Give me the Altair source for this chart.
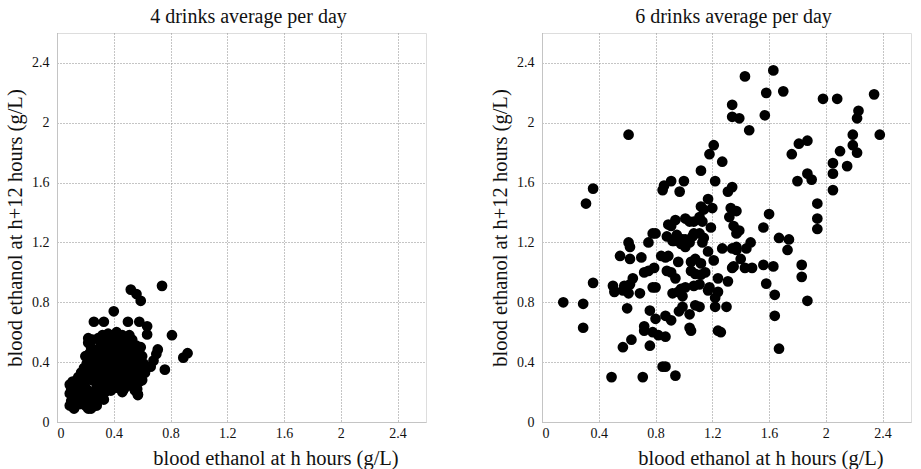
import altair as alt
import pandas as pd

# Blood ethanol (g/L) at h hours and at h+12 hours, 4 drinks/day group
x4 = [0.09, 0.12, 0.10, 0.13, 0.09, 0.10, 0.09, 0.11, 0.13, 0.12, 0.15, 0.17, 0.16, 0.15,
      0.19, 0.21, 0.18, 0.20, 0.20, 0.22, 0.24, 0.26, 0.28, 0.27, 0.24, 0.30, 0.29, 0.23,
      0.21, 0.14, 0.18, 0.15,
      0.19, 0.21, 0.20, 0.23, 0.22, 0.24, 0.25, 0.26, 0.24, 0.27, 0.25, 0.28, 0.30, 0.31,
      0.33, 0.32, 0.29, 0.28, 0.30, 0.31, 0.29, 0.32, 0.34, 0.36, 0.38, 0.35, 0.34, 0.36,
      0.35, 0.37, 0.36, 0.39, 0.40, 0.41, 0.39, 0.40, 0.42, 0.40, 0.42, 0.44, 0.45, 0.44,
      0.46, 0.45, 0.44, 0.43, 0.46, 0.48, 0.49, 0.48, 0.50, 0.48, 0.51, 0.53, 0.52, 0.54,
      0.52, 0.51, 0.53, 0.55, 0.56, 0.57, 0.58, 0.56, 0.59, 0.60, 0.61, 0.59, 0.58, 0.56,
      0.57, 0.55, 0.47, 0.46, 0.42, 0.38, 0.34, 0.33, 0.35, 0.54, 0.57, 0.22,
      0.14, 0.17, 0.22, 0.25, 0.27, 0.31, 0.29, 0.26, 0.23, 0.27, 0.25, 0.33, 0.31, 0.38,
      0.37, 0.41, 0.43, 0.47, 0.49, 0.46, 0.50, 0.53, 0.55, 0.54, 0.50, 0.48, 0.40, 0.38,
      0.33, 0.27, 0.17, 0.21, 0.12, 0.16, 0.19, 0.60, 0.62,
      0.40, 0.26, 0.33, 0.50, 0.58, 0.635, 0.635, 0.52, 0.56, 0.59, 0.74, 0.81, 0.71,
      0.70, 0.68, 0.66, 0.76, 0.89, 0.92, 0.565, 0.55, 0.47]
y4 = [0.11, 0.09, 0.14, 0.12, 0.19, 0.22, 0.25, 0.27, 0.24, 0.20, 0.26, 0.28, 0.22, 0.17,
      0.26, 0.28, 0.20, 0.23, 0.11, 0.09, 0.09, 0.11, 0.11, 0.14, 0.13, 0.15, 0.18, 0.17,
      0.16, 0.28, 0.31, 0.30,
      0.36, 0.39, 0.44, 0.46, 0.53, 0.50, 0.55, 0.42, 0.34, 0.31, 0.28, 0.25, 0.29, 0.24,
      0.27, 0.33, 0.37, 0.44, 0.48, 0.52, 0.56, 0.58, 0.55, 0.59, 0.57, 0.50, 0.45, 0.40,
      0.35, 0.30, 0.25, 0.28, 0.33, 0.38, 0.43, 0.48, 0.52, 0.56, 0.60, 0.57, 0.53, 0.46,
      0.42, 0.37, 0.32, 0.27, 0.29, 0.33, 0.39, 0.45, 0.50, 0.55, 0.58, 0.55, 0.48, 0.43,
      0.38, 0.31, 0.26, 0.30, 0.35, 0.40, 0.46, 0.51, 0.50, 0.44, 0.39, 0.33, 0.27, 0.22,
      0.18, 0.21, 0.22, 0.20, 0.23, 0.21, 0.20, 0.15, 0.24, 0.23, 0.185, 0.56,
      0.23, 0.24, 0.21, 0.19, 0.21, 0.20, 0.23, 0.35, 0.40, 0.48, 0.45, 0.38, 0.42, 0.46,
      0.52, 0.44, 0.36, 0.48, 0.42, 0.58, 0.36, 0.33, 0.40, 0.50, 0.27, 0.24, 0.25, 0.35,
      0.48, 0.39, 0.33, 0.33, 0.17, 0.12, 0.15, 0.28, 0.33,
      0.74, 0.67, 0.67, 0.67, 0.67, 0.64, 0.585, 0.885, 0.855, 0.81, 0.91, 0.58, 0.485,
      0.455, 0.41, 0.37, 0.35, 0.43, 0.46, 0.22, 0.25, 0.22]

# Same measures, 6 drinks/day group
x6 = [0.15, 0.29, 0.29, 0.36, 0.31, 0.36, 0.61,
      0.49, 0.71, 0.85, 0.87, 0.94,
      0.57, 0.63, 0.76, 0.60,
      0.50, 0.51, 0.57, 0.61, 0.58, 0.62, 0.64, 0.69, 0.78, 0.80,
      0.72, 0.75, 0.79,
      0.55, 0.62, 0.70,
      0.61, 0.62, 0.75, 0.78, 0.80,
      0.84, 0.87, 0.89, 0.88, 0.92,
      0.96, 0.88, 0.91, 0.94,
      0.92, 0.96, 1.01, 0.99, 0.98,
      0.76, 0.80, 0.87, 0.91, 0.965, 0.99, 1.04,
      0.72, 0.72, 0.78, 0.82, 0.87,
      1.04, 1.05, 1.08, 1.11,
      1.17, 1.18, 1.22, 1.24, 1.22, 1.30, 1.24, 1.26,
      1.31, 1.24, 1.07, 1.11,
      1.05, 1.08, 1.12, 1.05, 1.08, 1.12, 1.15,
      1.21,
      0.95, 0.99, 1.01, 1.06, 1.11, 1.13, 1.14, 1.17,
      1.27, 1.34,
      1.34, 1.34, 1.39, 1.57, 1.46,
      1.21, 1.18, 1.27, 1.12, 1.22, 1.00, 0.91, 0.86, 0.85, 0.97,
      1.31, 1.34, 1.17, 1.12, 1.14, 1.20, 1.33, 1.32, 1.37,
      1.11, 1.13, 1.01, 1.04, 1.07, 0.94, 0.89, 0.91, 1.19, 1.35,
      0.93, 1.01, 1.07, 1.04, 0.98, 1.34,
      1.43, 1.63, 1.58, 1.70,
      1.98, 2.08, 2.34, 2.23, 2.22, 2.19, 2.38,
      1.81, 1.87, 1.76, 1.87, 1.90, 1.80,
      2.05, 2.05, 2.05, 2.10, 2.19, 2.22, 2.15,
      1.60, 1.94, 1.94, 1.94, 1.56, 1.39, 1.37, 1.67, 1.74, 1.73,
      1.37, 1.37, 1.44, 1.47, 1.40, 1.35, 1.43, 1.48, 1.56, 1.63, 1.83, 1.83,
      1.58, 1.64, 1.87, 1.64, 1.67]
y6 = [0.80, 0.79, 0.63, 0.93, 1.46, 1.56, 1.92,
      0.30, 0.30, 0.37, 0.37, 0.31,
      0.50, 0.55, 0.51, 0.76,
      0.91, 0.87, 0.88, 0.86, 0.91, 0.92, 0.96, 0.86, 0.90, 0.90,
      1.00, 1.01, 1.03,
      1.11, 1.09, 1.10,
      1.20, 1.17, 1.20, 1.26, 1.26,
      1.11, 1.10, 1.11, 1.24, 1.21,
      1.07, 1.01, 1.00, 0.96,
      0.86, 0.87, 0.90, 0.84, 0.89,
      0.745, 0.69, 0.71, 0.68, 0.74, 0.77, 0.72,
      0.64, 0.61, 0.60, 0.58, 0.57,
      0.63, 0.61, 0.78, 0.77,
      0.88, 0.90, 0.83, 0.87, 0.77, 0.77, 0.61, 0.60,
      0.94, 0.96, 0.91, 0.92,
      1.07, 1.09, 1.06, 1.01, 0.99, 0.985, 1.00,
      1.08,
      1.25, 1.22, 1.17, 1.24, 1.26, 1.20, 1.23, 1.14,
      1.16, 1.03,
      2.12, 2.04, 2.03, 2.05, 1.95,
      1.85, 1.79, 1.74, 1.68, 1.61, 1.61, 1.61, 1.58, 1.55, 1.54,
      1.54, 1.57, 1.49, 1.44, 1.42, 1.43, 1.43, 1.37, 1.41,
      1.37, 1.34, 1.36, 1.34, 1.34, 1.35, 1.32, 1.31, 1.30, 1.31,
      1.21, 1.22, 1.26, 1.20, 1.19, 1.16,
      2.31, 2.35, 2.20, 2.21,
      2.16, 2.16, 2.19, 2.08, 2.03, 1.92, 1.92,
      1.86, 1.88, 1.79, 1.66, 1.62, 1.61,
      1.73, 1.66, 1.55, 1.81, 1.85, 1.80, 1.71,
      1.39, 1.46, 1.36, 1.29, 1.30, 1.28, 1.26, 1.23, 1.22, 1.15,
      1.17, 1.15, 1.16, 1.20, 1.09, 1.04, 1.03, 1.03, 1.05, 1.04, 1.05, 0.97,
      0.925, 0.85, 0.81, 0.71, 0.49]

tick_values = [0, 0.4, 0.8, 1.2, 1.6, 2, 2.4]
panel_titles = ["4 drinks average per day", "6 drinks average per day"]
x_title = "blood ethanol at h hours (g/L)"
y_title = "blood ethanol at h+12 hours (g/L)"

FONT = "Liberation Serif"
PW, PH = 369, 389


def panel(xs, ys, title):
    df = pd.DataFrame({"h": xs, "h12": ys})
    scale = alt.Scale(domain=[0, 2.6], nice=False, zero=False)
    common = dict(
        values=tick_values,
        labelExpr="format(datum.value, '~g')",
        ticks=False,
        grid=True,
        gridColor="#8a8a8a",
        gridDash=[1, 2],
        gridWidth=1,
        domainColor="#c4c4c4",
        labelFont=FONT,
        labelFontSize=14,
        labelColor="#111",
        titleFont=FONT,
        titleFontSize=20.5,
        titleFontWeight="normal",
        titleColor="#111",
    )
    return (
        alt.Chart(df)
        .mark_circle(size=115, color="black", opacity=1)
        .encode(
            x=alt.X("h:Q", scale=scale,
                    axis=alt.Axis(title=x_title, labelPadding=4, titlePadding=8,
                                  titleX=PW / 2 + 34, titleAlign="center", **common)),
            y=alt.Y("h12:Q", scale=scale,
                    axis=alt.Axis(title=y_title, labelPadding=8, titlePadding=6, **common)),
        )
        .properties(
            width=PW,
            height=PH,
            title=alt.TitleParams(title, font=FONT, fontSize=20, fontWeight="normal",
                                  color="#111", offset=6, dx=7),
        )
    )


chart = (
    alt.hconcat(panel(x4, y4, panel_titles[0]), panel(x6, y6, panel_titles[1]), spacing=63)
    .properties(padding={"left": 5, "top": 6, "right": 2, "bottom": 2})
    .configure_view(stroke="#c4c4c4", strokeWidth=1)
    .configure(background="white")
)

chart.save("out.html", embed_options={"renderer": "svg", "actions": False})
